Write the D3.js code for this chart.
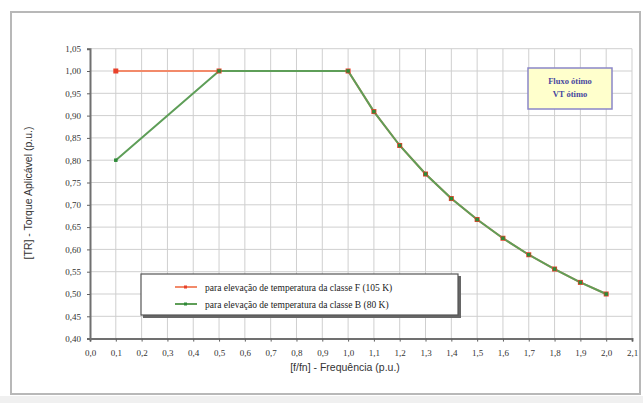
<!DOCTYPE html>
<html>
<head>
<meta charset="utf-8">
<script src="https://cdn.jsdelivr.net/npm/d3@7"></script>
<style>
  body { margin: 0; background: #ffffff; }
  svg { display: block; }
</style>
</head>
<body>
<svg id="chart" width="643" height="403"></svg>
<script>
// Frequency points (p.u.)
const freq = [0.1, 0.5, 1.0, 1.1, 1.2, 1.3, 1.4, 1.5, 1.6, 1.7, 1.8, 1.9, 2.0];
// Torque, class F rise (105 K)
const torqueF = [1.00, 1.00, 1.00, 0.909, 0.833, 0.769, 0.714, 0.667, 0.625, 0.588, 0.556, 0.526, 0.500];
// Torque, class B rise (80 K)
const torqueB = [0.80, 1.00, 1.00, 0.909, 0.833, 0.769, 0.714, 0.667, 0.625, 0.588, 0.556, 0.526, 0.500];

const xTicks = d3.range(0, 22).map(i => i / 10);
const yTicks = d3.range(0, 14).map(i => 0.40 + i * 0.05);
const seriesNames = ["para elevação de temperatura da classe F (105 K)",
    "para elevação de temperatura da classe B (80 K)"];
const noteLines = ["Fluxo ótimo", "VT ótimo"];

const svg = d3.select('#chart');
const fmt = d => d.toFixed(1).replace('.', ',');
const fmtY = d => d.toFixed(2).replace('.', ',');

// outer frame
svg.append('rect')
    .attr('x', 11).attr('y', 12).attr('width', 629).attr('height', 382)
    .attr('fill', '#fff').attr('stroke', '#b8b8b8').attr('stroke-width', 2);
svg.append('rect')
    .attr('x', 0).attr('y', 396).attr('width', 643).attr('height', 7)
    .attr('fill', '#f0f0f0');

const x = d3.scaleLinear().domain([0, 2.1]).range([90, 632]);
const y = d3.scaleLinear().domain([0.40, 1.05]).range([338.6, 48.7]);

// grid
svg.append('g').selectAll('line')
    .data(xTicks.slice(1))
    .enter().append('line')
    .attr('x1', d => x(d)).attr('x2', d => x(d))
    .attr('y1', y(0.40)).attr('y2', y(1.05))
    .attr('stroke', '#cfcfcf').attr('stroke-width', 1);
svg.append('g').selectAll('line')
    .data(yTicks.slice(1))
    .enter().append('line')
    .attr('x1', x(0)).attr('x2', x(2.1))
    .attr('y1', d => y(d)).attr('y2', d => y(d))
    .attr('stroke', '#cfcfcf').attr('stroke-width', 1);

// axes
const xAxis = svg.append('g')
    .attr('transform', `translate(0,${y(0.40)})`)
    .call(d3.axisBottom(x).tickValues(xTicks).tickFormat(fmt).tickSize(3).tickPadding(8));
const yAxis = svg.append('g')
    .attr('transform', `translate(${x(0)},0)`)
    .call(d3.axisLeft(y).tickValues(yTicks).tickFormat(fmtY).tickSize(3).tickPadding(6));
[xAxis, yAxis].forEach(a => {
    a.select('.domain').attr('stroke', '#707070').attr('stroke-width', 2);
    a.selectAll('.tick line').attr('stroke', '#606060');
    a.selectAll('text')
        .attr('fill', '#333')
        .style('font-family', '"Liberation Serif", serif')
        .style('font-size', '9px');
});

// axis titles
svg.append('text')
    .attr('x', 345).attr('y', 371)
    .attr('text-anchor', 'middle')
    .style('font-family', '"Liberation Sans", sans-serif')
    .style('font-size', '10.5px').attr('fill', '#333')
    .text('[f/fn] - Frequência (p.u.)');
svg.append('text')
    .attr('transform', 'translate(32,193) rotate(-90)')
    .attr('text-anchor', 'middle')
    .style('font-family', '"Liberation Sans", sans-serif')
    .style('font-size', '10.5px').attr('fill', '#333')
    .text('[TR] - Torque Aplicável (p.u.)');

// series
const line = d3.line().x(d => x(d[0])).y(d => y(d[1]));
const series = [
    { vals: torqueF, stroke: '#f28a6a', dot: '#e8402a', size: 5 },
    { vals: torqueB, stroke: '#5e9e58', dot: '#2e8a38', size: 3.5 }
];
series.forEach(s => {
    const pts = freq.map((f, i) => [f, s.vals[i]]);
    svg.append('path')
        .datum(pts)
        .attr('d', line)
        .attr('fill', 'none')
        .attr('stroke', s.stroke)
        .attr('stroke-width', 2);
});
series.forEach(s => {
    const pts = freq.map((f, i) => [f, s.vals[i]]);
    svg.append('g').selectAll('rect')
        .data(pts)
        .enter().append('rect')
        .attr('x', d => x(d[0]) - s.size / 2).attr('y', d => y(d[1]) - s.size / 2)
        .attr('width', s.size).attr('height', s.size)
        .attr('fill', s.dot);
});

// legend
svg.append('rect')
    .attr('x', 143).attr('y', 276).attr('width', 318).attr('height', 42)
    .attr('fill', '#666');
svg.append('rect')
    .attr('x', 141).attr('y', 274).attr('width', 317).attr('height', 41)
    .attr('fill', '#fff').attr('stroke', '#555').attr('stroke-width', 1.2);
seriesNames.forEach((name, i) => {
    const ly = 287 + i * 17;
    svg.append('line')
        .attr('x1', 175).attr('x2', 197).attr('y1', ly).attr('y2', ly)
        .attr('stroke', series[i].stroke).attr('stroke-width', 2);
    svg.append('rect')
        .attr('x', 184).attr('y', ly - 1.5).attr('width', 3).attr('height', 3)
        .attr('fill', series[i].dot);
    svg.append('text')
        .attr('x', 205).attr('y', ly + 3.5)
        .style('font-family', '"Liberation Serif", serif')
        .style('font-size', '9.5px').attr('fill', '#222')
        .text(name);
});

// note box
svg.append('rect')
    .attr('x', 528).attr('y', 68).attr('width', 84).attr('height', 41)
    .attr('fill', '#ffffcc').attr('stroke', '#8a86c8').attr('stroke-width', 1.5);
noteLines.forEach((t, i) => {
    svg.append('text')
        .attr('x', 570).attr('y', 84 + i * 13)
        .attr('text-anchor', 'middle')
        .style('font-family', '"Liberation Serif", serif')
        .style('font-size', '8.5px').style('font-weight', 'bold')
        .attr('fill', '#4848a0')
        .text(t);
});
</script>
</body>
</html>
